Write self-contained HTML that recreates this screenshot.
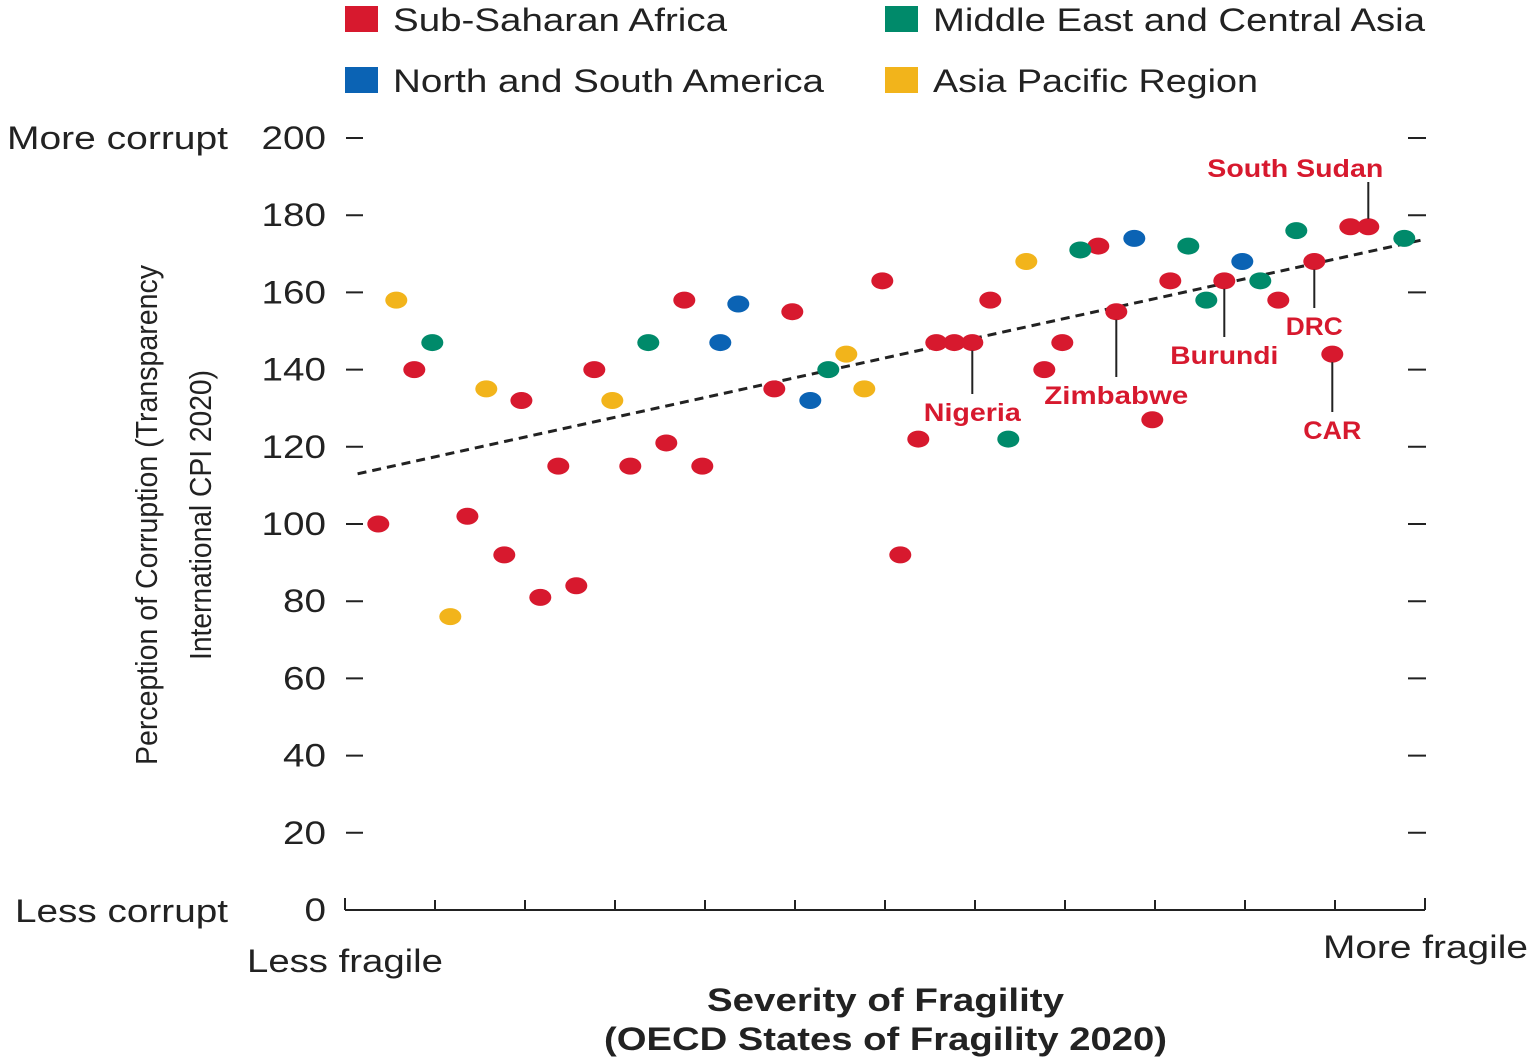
<!DOCTYPE html>
<html><head><meta charset="utf-8"><style>
html,body{margin:0;padding:0;background:#fff;}
svg{display:block;font-family:"Liberation Sans",sans-serif;}
</style></head><body>
<svg id="chart" width="1535" height="1063" viewBox="0 0 1535 1063" xmlns="http://www.w3.org/2000/svg">
<g font-size="32" fill="#222">
 <g><rect x="345" y="6" width="33" height="26" fill="#d7192e"/><text x="393" y="31" textLength="334" lengthAdjust="spacingAndGlyphs">Sub-Saharan Africa</text></g>
 <g><rect x="885" y="6" width="33" height="26" fill="#008a6a"/><text x="933" y="31" textLength="492" lengthAdjust="spacingAndGlyphs">Middle East and Central Asia</text></g>
 <g><rect x="345" y="67" width="33" height="26" fill="#0b63b4"/><text x="393" y="92" textLength="431" lengthAdjust="spacingAndGlyphs">North and South America</text></g>
 <g><rect x="885" y="67" width="33" height="26" fill="#f2b41b"/><text x="933" y="92" textLength="325" lengthAdjust="spacingAndGlyphs">Asia Pacific Region</text></g>
</g>
<g id="axes"></g>
<g id="marks"></g>
<g id="annot"></g>
<text x="7" y="149" font-size="32" fill="#222" textLength="221" lengthAdjust="spacingAndGlyphs">More corrupt</text>
<text x="15" y="922" font-size="32" fill="#222" textLength="213" lengthAdjust="spacingAndGlyphs">Less corrupt</text>
<text x="247" y="972" font-size="32" fill="#222" textLength="196" lengthAdjust="spacingAndGlyphs">Less fragile</text>
<text x="1323" y="958" font-size="32" fill="#222" textLength="205" lengthAdjust="spacingAndGlyphs">More fragile</text>
<text x="707" y="1011" font-size="32" font-weight="bold" fill="#222" textLength="357" lengthAdjust="spacingAndGlyphs">Severity of Fragility</text>
<text x="604" y="1050" font-size="32" font-weight="bold" fill="#222" textLength="563" lengthAdjust="spacingAndGlyphs">(OECD States of Fragility 2020)</text>
<g font-size="31" fill="#222">
 <text transform="translate(157,515) rotate(-90)" text-anchor="middle" textLength="500" lengthAdjust="spacingAndGlyphs">Perception of Corruption (Transparency</text>
 <text transform="translate(211,515) rotate(-90)" text-anchor="middle" textLength="290" lengthAdjust="spacingAndGlyphs">International CPI 2020)</text>
</g>
</svg>
<script>
const yTicks=[0,20,40,60,80,100,120,140,160,180,200];
const xTickCount=12;
const regionColors={ssa:"#d7192e",mec:"#008a6a",am:"#0b63b4",ap:"#f2b41b"};
const ssaX=[0.37,0.77,1.36,1.77,1.96,2.17,2.37,2.57,2.77,3.17,3.57,3.77,3.97,4.77,4.97,5.97,6.17,6.37,6.57,6.77,6.97,7.17,7.77,7.97,8.37,8.57,8.97,9.17,9.77,10.37,10.77,10.97,11.17,11.37];
const ssaY=[100,140,102,92,132,81,115,84,140,115,121,158,115,135,155,163,92,122,147,147,147,158,140,147,172,155,127,163,163,158,168,144,177,177];
const mecX=[0.97,3.37,5.37,7.37,8.17,9.37,9.57,10.17,10.57,11.77];
const mecY=[147,147,140,122,171,172,158,163,176,174];
const amX=[4.17,4.37,5.17,8.77,9.97];
const amY=[147,157,132,174,168];
const apX=[0.57,1.17,1.57,2.97,5.57,5.77,7.57];
const apY=[158,76,135,132,144,135,168];
const trendX=[0.14,11.95];
const trendY=[113,173.5];
const labels=["South Sudan","Nigeria","Zimbabwe","Burundi","DRC","CAR"];
const labelX=[11.37,6.97,8.57,9.77,10.77,10.97];
const labelY=[177,147,155,163,168,144];
const labelDx=[-73,0,0,0,0,0];
const labelTextY=[168,412,395,355,326,430];
const labelW=[176,97,144,108,57,58];

const X0=345,X1=1425,Y0=910,Y1=138;
const sx=v=>X0+v*(X1-X0)/xTickCount;
const sy=v=>Y0-v*(Y0-Y1)/200;
const NS="http://www.w3.org/2000/svg";
function mk(t,a,p){const e=document.createElementNS(NS,t);for(const k in a)e.setAttribute(k,a[k]);p.appendChild(e);return e;}
const axes=document.getElementById('axes');
yTicks.forEach(t=>{
 const y=sy(t);
 const s=String(t);
 const w=s.length*21.5;
 const lab=mk('text',{x:326-w,y:y+11,'font-size':32,fill:'#222',textLength:w,lengthAdjust:'spacingAndGlyphs'},axes);
 lab.textContent=s;
 
 
 if(t>0){
  const l=mk('line',{x1:346,x2:363,y1:y,y2:y,stroke:'#222','stroke-width':2},axes);
  
  
  const r=mk('line',{x1:1408,x2:1426,y1:y,y2:y,stroke:'#222','stroke-width':2},axes);
  
  
 }
});
const xl=mk('line',{x1:X0,x2:X1,y1:Y0,y2:Y0,stroke:'#222','stroke-width':2},axes);


for(let i=0;i<=xTickCount;i++){
 const x=sx(i);
 const t=mk('line',{x1:x,x2:x,y1:(i==0||i==xTickCount)?898:900,y2:Y0,stroke:'#222','stroke-width':2},axes);
 
 
}
const tl=mk('line',{x1:sx(trendX[0]),y1:sy(trendY[0]),x2:sx(trendX[1]),y2:sy(trendY[1]),stroke:'#222','stroke-width':3,'stroke-dasharray':'9,6'},axes);


const marks=document.getElementById('marks');
function series(xs,ys,c,name){xs.forEach((x,i)=>{
 const e=mk('ellipse',{cx:sx(x),cy:sy(ys[i]),rx:11,ry:8.5,fill:c},marks);
 
 
});}
series(ssaX,ssaY,regionColors.ssa,'point-sub-saharan-africa');
series(mecX,mecY,regionColors.mec,'point-middle-east-central-asia');
series(amX,amY,regionColors.am,'point-americas');
series(apX,apY,regionColors.ap,'point-asia-pacific');
const an=document.getElementById('annot');
labels.forEach((s,i)=>{
 const px=sx(labelX[i]),py=sy(labelY[i]),ty=labelTextY[i];
 let y1,y2;
 if(ty<py){y1=ty+14;y2=py-8;}else{y1=py+8;y2=ty-18;}
 const l=mk('line',{x1:px,x2:px,y1:y1,y2:y2,stroke:'#222','stroke-width':2},an);
 
 
 const t=mk('text',{x:px+labelDx[i]-labelW[i]/2,y:ty+9,'font-size':25,'font-weight':'bold',fill:'#d7192e',textLength:labelW[i],lengthAdjust:'spacingAndGlyphs'},an);
 t.textContent=s;
 
 
});
</script>
</body></html>
